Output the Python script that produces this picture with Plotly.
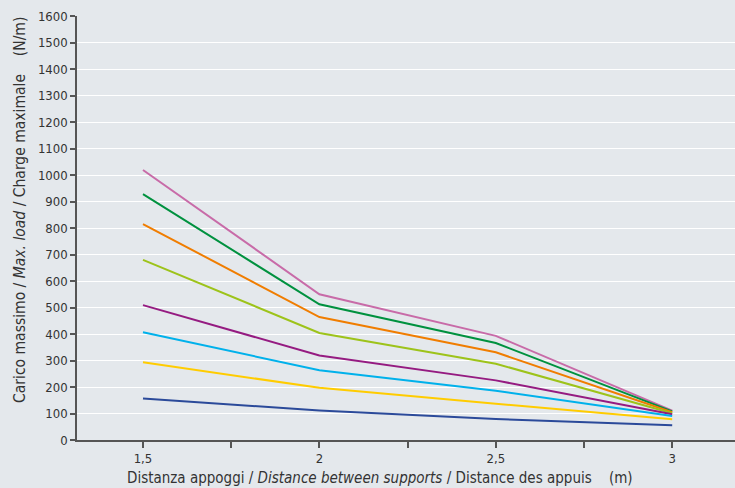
import plotly.graph_objects as go

x_vals = [1.5, 2, 2.5, 3]
series_names = ["s1", "s2", "s3", "s4", "s5", "s6", "s7", "s8"]
series_values = [
    [1019, 550, 393, 111],
    [928, 512, 366, 108],
    [815, 464, 331, 105],
    [680, 404, 288, 101],
    [509, 319, 225, 97],
    [407, 263, 186, 91],
    [293, 197, 137, 78],
    [157, 111, 79, 56],
]
series_colors = ["#c86ba8", "#00913f", "#f07d00", "#9dc31a", "#951b81", "#00b1eb", "#ffcc00", "#2b4a9a"]
x_tickvals = [1.5, 2, 2.5, 3]
x_ticktext = ["1,5", "2", "2,5", "3"]
y_tickvals = list(range(0, 1700, 100))

FONT = "DejaVu Sans Condensed, Liberation Sans Narrow, DejaVu Sans, sans-serif"
TXT = "#333333"

fig = go.Figure()
for name, vals, col in zip(series_names, series_values, series_colors):
    fig.add_trace(go.Scatter(x=x_vals, y=vals, mode="lines", name=name,
                             line=dict(color=col, width=2), showlegend=False))

fig.update_layout(
    width=735, height=488,
    margin=dict(l=77, r=0, t=16, b=48),
    paper_bgcolor="#e4e8ec", plot_bgcolor="#e4e8ec",
    font=dict(family=FONT, size=13, color=TXT),
    separators=",.",
    xaxis=dict(
        range=[1.313, 3.178], tickvals=x_tickvals, ticktext=x_ticktext,
        ticks="outside", ticklen=6, tickwidth=1.5, tickcolor="#555555",
        showline=True, linecolor="#555555", linewidth=1.5,
        showgrid=False, zeroline=False,
        minor=dict(dtick=0.25, tick0=1.5, ticks="outside", ticklen=6, tickwidth=1.5, tickcolor="#555555", showgrid=False),
        tickfont=dict(size=13, family=FONT, color=TXT),
    ),
    yaxis=dict(
        range=[0, 1600], tickvals=y_tickvals,
        ticks="outside", ticklen=5, tickwidth=1.5, tickcolor="#555555",
        showline=True, linecolor="#555555", linewidth=1.5,
        showgrid=True, gridcolor="#ffffff", gridwidth=1.2, zeroline=False,
        tickfont=dict(size=13, family=FONT, color=TXT),
    ),
)

fig.add_annotation(
    text="Distanza appoggi / <i>Distance between supports</i> / Distance des appuis &nbsp;&nbsp;&nbsp;(m)",
    xref="paper", yref="paper", x=(380 - 77) / 658, y=-38 / 424, xanchor="center", yanchor="middle",
    showarrow=False, font=dict(size=15, family=FONT, color=TXT),
)
fig.add_annotation(
    text="Carico massimo / <i>Max. load</i> / Charge maximale &nbsp;&nbsp;&nbsp;(N/m)",
    xref="paper", yref="paper", x=-57 / 658, y=(440 - 210) / 424, xanchor="center", yanchor="middle",
    textangle=-90, showarrow=False, font=dict(size=15.5, family=FONT, color=TXT),
)

fig.write_html("out.html", config={"displayModeBar": False},
               post_script="document.body.style.margin='0';")
